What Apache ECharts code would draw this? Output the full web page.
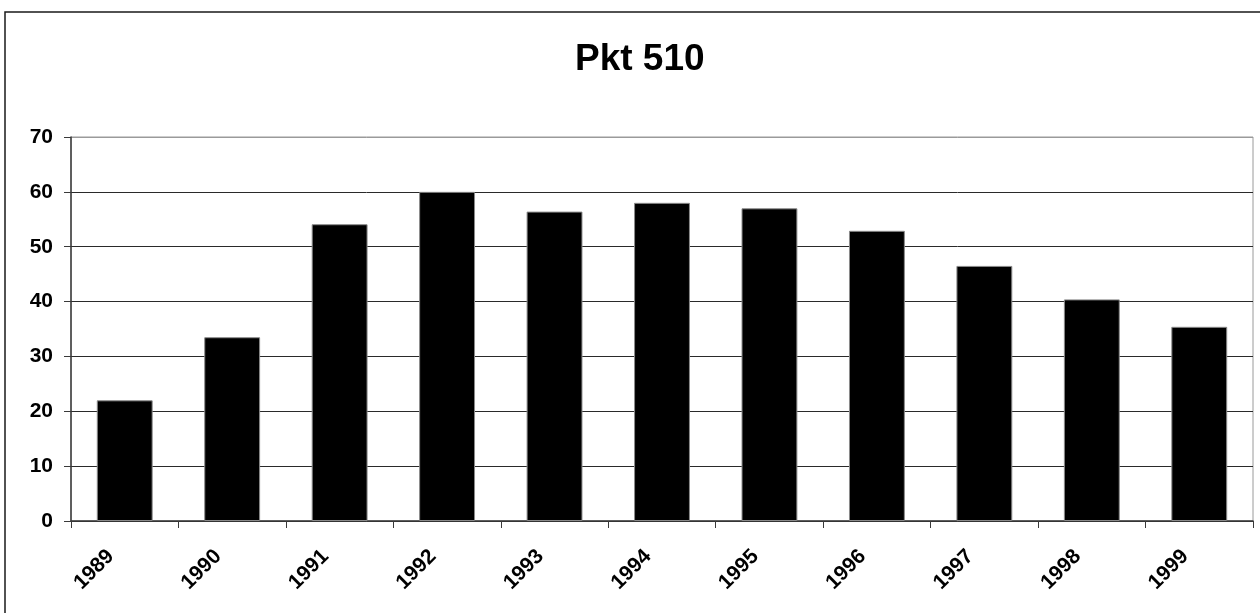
<!DOCTYPE html>
<html>
<head>
<meta charset="utf-8">
<title>Pkt 510</title>
<script src="https://cdn.jsdelivr.net/npm/echarts@6/dist/echarts.min.js"></script>
<style>
  html, body { margin: 0; padding: 0; background: #ffffff; }
  #chart { width: 1260px; height: 613px; }
</style>
</head>
<body>
<div id="chart"></div>
<script>
// Yearly values for Pkt 510
const years = ['1989', '1990', '1991', '1992', '1993', '1994', '1995', '1996', '1997', '1998', '1999'];
const values = [22.0, 33.5, 54.1, 60.0, 56.4, 58.0, 57.0, 52.9, 46.5, 40.4, 35.4];
const yTicks = [0, 10, 20, 30, 40, 50, 60, 70];

const chart = echarts.init(document.getElementById('chart'), null, { renderer: 'canvas' });

const labelFont = {
  fontFamily: '"Liberation Sans", Arial, sans-serif',
  fontWeight: 'bold',
  fontSize: 21,
  color: '#000'
};

// grid lines dark, top (max) line matches the light plot frame
const splitColors = yTicks.map((v, i) => (i === yTicks.length - 1 ? '#9a9a9a' : '#2a2a2a'));

chart.setOption({
  animation: false,
  backgroundColor: '#ffffff',
  title: {
    text: 'Pkt 510',
    left: 570,
    top: 36,
    textStyle: {
      fontFamily: '"Liberation Sans", Arial, sans-serif',
      fontWeight: 'bold',
      fontSize: 37,
      color: '#000'
    }
  },
  graphic: [
    {
      type: 'rect',
      shape: { x: 5, y: 12, width: 1270, height: 620 },
      style: { fill: 'none', stroke: '#1a1a1a', lineWidth: 1.5 },
      silent: true,
      z: 0
    }
  ],
  grid: {
    left: 71,
    right: 7,
    top: 137,
    bottom: 92,
    show: true,
    borderColor: '#9a9a9a',
    borderWidth: 1,
    containLabel: false
  },
  xAxis: {
    type: 'category',
    data: years,
    boundaryGap: true,
    axisLine: { show: true, lineStyle: { color: '#3a3a3a', width: 1.5 } },
    axisTick: { show: true, alignWithLabel: false, length: 7, lineStyle: { color: '#3a3a3a', width: 1 } },
    axisLabel: Object.assign({ rotate: 45, margin: 18, interval: 0, padding: [0, 20, 0, 0] }, labelFont),
    splitLine: { show: false }
  },
  yAxis: {
    type: 'value',
    min: yTicks[0],
    max: yTicks[yTicks.length - 1],
    interval: 10,
    axisLine: { show: true, lineStyle: { color: '#3a3a3a', width: 1.5 } },
    axisTick: { show: true, length: 7, lineStyle: { color: '#3a3a3a', width: 1 } },
    axisLabel: Object.assign({ margin: 18 }, labelFont),
    splitLine: { show: true, lineStyle: { color: splitColors, width: 1 } }
  },
  series: [
    {
      type: 'bar',
      data: values,
      barWidth: '52%',
      itemStyle: { color: '#000000', borderColor: '#8a8a8a', borderWidth: 1 },
      z: 3
    }
  ]
});
</script>
</body>
</html>
